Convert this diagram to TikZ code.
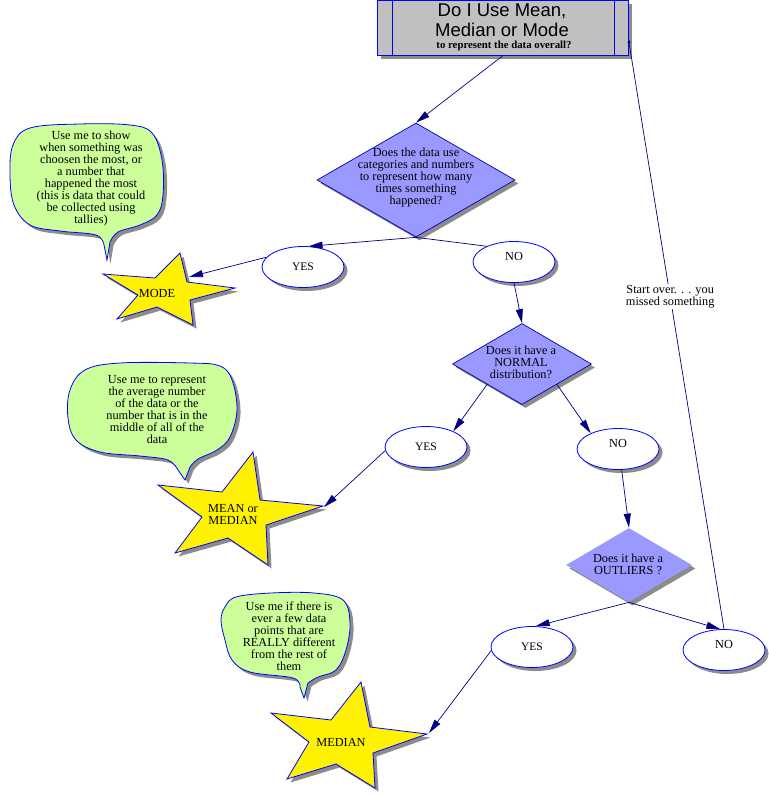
\documentclass[tikz,border=0pt]{standalone}
\usepackage{fontspec}
\setmainfont{Liberation Serif}
\newfontfamily\titlefont{Liberation Sans}
\usetikzlibrary{shapes.geometric,shadows,arrows.meta,calc}
\definecolor{dia}{HTML}{9999FF}
\definecolor{bub}{HTML}{CCFF99}
\definecolor{navyc}{HTML}{000080}
\definecolor{shade}{HTML}{8C8C8C}
\definecolor{boxgray}{HTML}{C0C0C0}
\definecolor{brd}{HTML}{0000FF}
\definecolor{diabrd}{HTML}{0000B0}
\tikzset{
  shad/.style={drop shadow={shadow xshift=3.5pt, shadow yshift=-3.5pt, fill=shade, opacity=1}},
  titlebox/.style={rectangle, draw=brd, fill=boxgray, line width=0.9pt, minimum width=251pt, minimum height=55pt, inner sep=0pt, shad},
  diabox/.style={diamond, fill=dia, draw=diabrd, line width=0.7pt, inner sep=0pt, shad},
  oval/.style={ellipse, draw=brd, fill=white, line width=0.8pt, minimum width=82pt, minimum height=41pt, inner sep=0pt, shad, font=\fontsize{11.5}{12}\selectfont},
  starshape/.style={draw=brd, fill=yellow, line width=0.8pt, line join=miter, shad},
  bubble/.style={draw=brd, fill=bub, line width=0.8pt, shad},
  txt/.style={align=center, inner sep=0pt},
  link/.style={draw=navyc, line width=0.7pt},
  conn/.style={link, -{Triangle[length=14pt,width=7pt]}},
  backconn/.style={link, -{Triangle[length=4pt,width=3pt]}},
}
\begin{document}
\begin{tikzpicture}[x=1pt,y=-1pt,font=\fontsize{12.3}{12}\selectfont]
\useasboundingbox (0,0) rectangle (768,797);

% title box
\node[titlebox] (title) at (502.5,28) {};
\draw[brd, line width=0.9pt] ($(title.north west)+(16,0)$) -- ($(title.south west)+(16,0)$);
\draw[brd, line width=0.9pt] ($(title.north east)+(-14,0)$) -- ($(title.south east)+(-14,0)$);
\node[anchor=base, inner sep=0pt, font=\titlefont\fontsize{18.5}{20}\selectfont] (t1) at (502,17) {Do I Use Mean,};
\node[anchor=base, inner sep=0pt, font=\titlefont\fontsize{18.5}{20}\selectfont] (t2) at (502,37) {Median or Mode};
\node[anchor=base, inner sep=0pt, font=\bfseries\fontsize{10.8}{12}\selectfont] (t3) at (504,48.5) {to represent the data overall?};

% diamonds
\node[diabox, minimum width=198pt, minimum height=114pt] (d1) at (416,180) {};
\node[txt] (d1t) at (416,178) {Does the data use\\categories and numbers\\to represent how many\\times something\\happened?};
\node[diabox, minimum width=139pt, minimum height=81pt] (d2) at (522,364) {};
\node[txt] (d2t) at (521,362) {Does it have a\\NORMAL\\distribution?};
\node[diabox, draw=none, minimum width=126pt, minimum height=74pt] (d3) at (629,565) {};
\node[txt] (d3t) at (628,564.5) {Does it have a\\OUTLIERS ?};

% ovals
\node[oval] (yes1) at (303,267) {YES};
\node[oval, label={[yshift=6pt]center:NO}] (no1) at (514,262) {};
\node[oval] (yes2) at (426,447) {YES};
\node[oval, label={[yshift=6pt]center:NO}] (no2) at (618,449) {};
\node[oval] (yes3) at (532,647) {YES};
\node[oval, label={[yshift=6pt]center:NO}] (no3) at (724,650) {};

% speech bubbles
\draw[bubble] (107,260) -- plot[smooth, tension=0.6] coordinates {(104,245) (96,235) (60,231) (30,225) (14,205) (10,175) (13,145) (30,128) (80,124) (130,125) (152,133) (162,160) (163,195) (157,215) (140,225) (118,232) (110,242)} -- cycle;
\node[txt] (b1) at (91,178.5) {Use me to show\\when something was\\choosen the most, or\\a number that\\happened the most\\(this is data that could\\be collected using\\tallies)};

\draw[bubble] (185,480) -- plot[smooth, tension=0.6] coordinates {(178,470) (168,460) (140,456) (100,452) (76,440) (68,418) (70,390) (85,370) (120,363) (190,363) (220,366) (232,380) (237,410) (230,437) (217,450) (198,459) (190,467)} -- cycle;
\node[txt] (b2) at (157,410) {Use me to represent\\the average number\\of the data or the\\number that is in the\\middle of all of the\\data};

\draw[bubble] (304,698) -- plot[smooth, tension=0.6] coordinates {(300,687) (293,678) (250,672) (232,660) (225,640) (221,620) (225,607) (236,597) (271,593) (314,593) (343,600) (350,623) (346,650) (336,670) (318,677) (308,683)} -- cycle;
\node[txt] (b3) at (289,636) {Use me if there is\\ever a few data\\points that are\\REALLY different\\from the rest of\\them};

% stars
\draw[starshape] (180,253) -- (187,282) -- (235,288) -- (190,300) -- (193,325) -- (157,307) -- (117,319) -- (138,295) -- (103,274) -- (155,278) -- cycle;
\node[txt] (mode) at (157,293) {MODE};
\coordinate (modetip) at (189,277);

\draw[starshape] (253,452) -- (260,500) -- (323,506) -- (266,525) -- (268,565) -- (228,538) -- (175,553) -- (202,517) -- (158,485) -- (222,492) -- cycle;
\node[txt] (mean) at (233,514) {MEAN or\\MEDIAN};
\coordinate (meantip) at (324,507);

\draw[starshape] (361,682) -- (370,727) -- (427,734) -- (373,753) -- (375,788) -- (336,764) -- (287,779) -- (309,742) -- (271,713) -- (331,720) -- cycle;
\node[txt] (median) at (341,742) {MEDIAN};
\coordinate (mediantip) at (429,733);

% connectors
\draw[conn] (title.south) -- (d1.north);
\draw[conn] (d1.south) -- (yes1.75);
\draw[link] (d1.south) -- (no1.150);
\draw[conn] (yes1.165) -- (modetip);
\draw[conn] (no1.south) -- (d2.north);
\draw[conn] (d2.south west) -- (yes2.30);
\draw[conn] (d2.south east) -- (no2.150);
\draw[conn] (yes2.185) -- (meantip);
\draw[conn] (no2.-80) -- (d3.north);
\draw[conn] (d3.south) -- (yes3.80);
\draw[conn] (d3.south) -- (no3.100);
\draw[conn] (yes3.185) -- (mediantip);
\draw[backconn] (no3.north) -- node[pos=0.563, fill=white, align=center, inner sep=1pt] (note) {Start over. . . you\\missed something} (title.-5.5);
\end{tikzpicture}
\end{document}
